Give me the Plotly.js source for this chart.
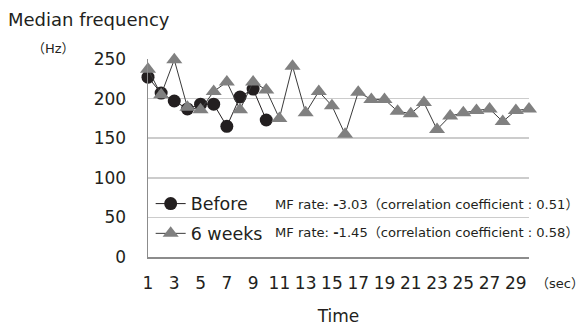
<!DOCTYPE html>
<html><head><meta charset="utf-8">
<script src="https://cdn.plot.ly/plotly-3.0.1.min.js"></script>
<style>html,body{margin:0;padding:0;background:#fff}#chart{width:588px;height:327px}</style>
</head><body><div id="chart"></div>
<script>
const secondsBefore = [1,2,3,4,5,6,7,8,9,10];
const before = [227,207,197,187,193,193,165,202,212,173];
const secondsWeeks = [1,2,3,4,5,6,7,8,9,10,11,12,13,14,15,16,17,18,19,20,21,22,23,24,25,26,27,28,29,30];
const weeks6 = [237,205,249,189,186,209,221,186,221,211,175,241,182,209,191,155,208,199,199,184,181,195,161,178,182,185,187,171,185,187];
const xTicks = [1,3,5,7,9,11,13,15,17,19,21,23,25,27,29];
const seriesNames = ['Before','6 weeks'];
const rateTexts = ['MF rate: <b>-</b>3.03（correlation coefficient : 0.51）','MF rate: <b>-</b>1.45（correlation coefficient : 0.58）'];

const F = '"DejaVu Sans", "Noto Sans CJK JP", sans-serif';
const traces = [
  {x: secondsBefore, y: before, name: seriesNames[0], type:'scatter', mode:'lines+markers', legendgroup:'a',
   line:{color:'#231f20', width:1}, marker:{symbol:'circle', size:13, color:'#231f20'}, cliponaxis:false},
  {x: secondsWeeks, y: weeks6, name: seriesNames[1], type:'scatter', mode:'lines+markers', legendgroup:'b',
   line:{color:'#3a3a3a', width:1}, marker:{symbol:'triangle-up', size:14, color:'#808080'}, cliponaxis:false}
];
const layout = {
  width:588, height:327, margin:{l:148, r:59, t:59, b:70},
  paper_bgcolor:'#fff', plot_bgcolor:'#fff',
  font:{family:F, color:'#231f20', size:17},
  showlegend:true,
  legend:{x:0.007, y:0.36, xanchor:'left', yanchor:'top', bgcolor:'rgba(0,0,0,0)', font:{size:17.5, family:F},
          traceorder:'grouped', tracegroupgap:4, itemwidth:30},
  xaxis:{range:[1,30], tickvals:xTicks, showgrid:false, zeroline:false, showline:true, linecolor:'#8c8c8c', linewidth:1.5,
         ticks:'', ticklabelstandoff:10, tickfont:{size:17},
         title:{text:'Time', font:{size:17}, standoff:18}},
  yaxis:{range:[0,250], dtick:50, showgrid:true, gridcolor:'#cccccc', gridwidth:1.5, zeroline:false, showline:true,
         linecolor:'#8c8c8c', linewidth:1.5, ticks:'', ticklabelstandoff:17, tickfont:{size:17}},
  annotations:[
    {xref:'paper', yref:'paper', x:-0.372, y:1.0, yshift:40, xanchor:'left', yanchor:'middle', text:'Median frequency', showarrow:false, font:{size:18}},
    {xref:'paper', yref:'paper', x:-0.31, y:1.0, yshift:11, xanchor:'left', yanchor:'middle', text:'（Hz）', showarrow:false, font:{size:13}},
    {xref:'paper', yref:'paper', x:1.0, y:0, yshift:-26, xshift:5, xanchor:'left', yanchor:'middle', text:'（sec）', showarrow:false, font:{size:13}},
    {xref:'paper', yref:'paper', x:(274-148)/381, y:(257-204)/198, xanchor:'left', yanchor:'middle', text:rateTexts[0], showarrow:false, font:{size:13.1}, borderpad:0},
    {xref:'paper', yref:'paper', x:(274-148)/381, y:(257-232)/198, xanchor:'left', yanchor:'middle', text:rateTexts[1], showarrow:false, font:{size:13.1}, borderpad:0}
  ]
};
Plotly.newPlot('chart', traces, layout, {displayModeBar:false, staticPlot:true});
</script></body></html>
